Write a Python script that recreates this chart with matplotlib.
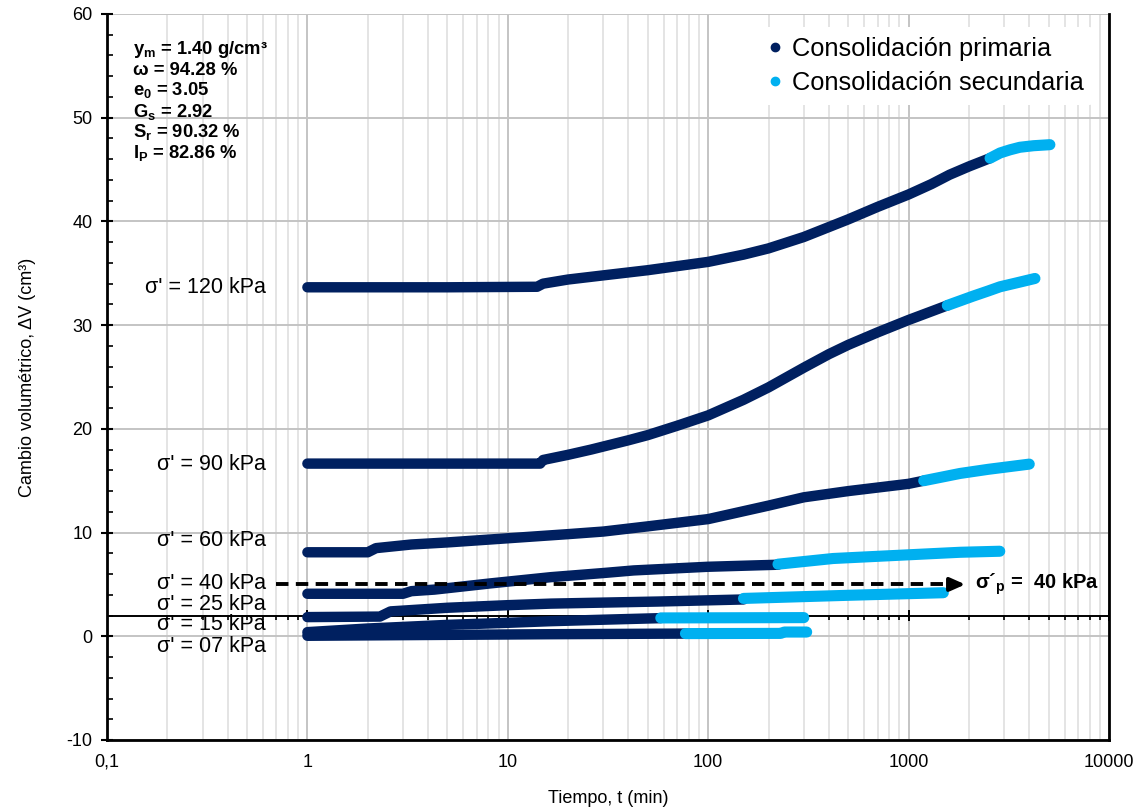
import matplotlib
matplotlib.use("Agg")
import matplotlib.pyplot as plt
from matplotlib.lines import Line2D
from matplotlib.ticker import FixedLocator, LogLocator, MultipleLocator, NullFormatter

plt.rcParams['font.family'] = ['Liberation Sans', 'DejaVu Sans']
plt.rcParams['mathtext.fontset'] = 'custom'
plt.rcParams['mathtext.rm'] = 'Liberation Sans'
plt.rcParams['mathtext.bf'] = 'Liberation Sans:bold'
plt.rcParams['mathtext.it'] = 'Liberation Sans:italic'
plt.rcParams['axes.unicode_minus'] = False

# ---- data: time (min) and volume change (cm3) per load step ----
t120_p = [1, 5, 14, 15, 20, 30, 50, 100, 150, 200, 300, 500, 700, 1000, 1300, 1600, 2000, 2550]
v120_p = [33.65, 33.65, 33.7, 34.0, 34.4, 34.8, 35.3, 36.1, 36.8, 37.4, 38.5, 40.2, 41.4, 42.6, 43.6, 44.5, 45.3, 46.1]
t120_s = [2550, 2860, 3200, 3590, 4200, 5070]
v120_s = [46.1, 46.6, 46.9, 47.15, 47.3, 47.4]

t90_p = [1, 14.5, 15, 20, 26, 40, 50, 70, 100, 150, 200, 300, 400, 500, 700, 1000, 1560]
v90_p = [16.65, 16.65, 17.0, 17.5, 18.0, 18.9, 19.4, 20.3, 21.3, 22.8, 24.0, 25.9, 27.2, 28.1, 29.3, 30.5, 31.9]
t90_s = [1560, 2100, 2500, 2860, 3500, 4270]
v90_s = [31.9, 32.8, 33.3, 33.7, 34.1, 34.5]

t60_p = [1, 2.0, 2.2, 3.3, 5, 10, 20, 30, 50, 100, 200, 300, 500, 1000, 1190]
v60_p = [8.1, 8.1, 8.5, 8.85, 9.05, 9.45, 9.85, 10.1, 10.6, 11.3, 12.6, 13.4, 14.0, 14.7, 15.0]
t60_s = [1190, 1806, 2500, 4000]
v60_s = [15.0, 15.7, 16.1, 16.6]

t40_p = [1, 3.0, 3.3, 4.3, 8.2, 16.4, 30, 42.5, 99, 223]
v40_p = [4.1, 4.1, 4.35, 4.5, 5.1, 5.7, 6.1, 6.35, 6.7, 6.9]
t40_s = [223, 420, 1806, 2850]
v40_s = [6.95, 7.5, 8.1, 8.2]

t25_p = [1, 2.3, 2.6, 5, 10, 16.4, 56, 150]
v25_p = [1.85, 1.9, 2.4, 2.75, 3.0, 3.15, 3.35, 3.55]
t25_s = [150, 495, 1490]
v25_s = [3.65, 3.95, 4.2]

t15_p = [1, 2, 5, 10, 16, 30, 58]
v15_p = [0.4, 0.75, 1.1, 1.3, 1.45, 1.6, 1.75]
t15_s = [58, 300]
v15_s = [1.77, 1.8]

t07_p = [1, 16, 77]
v07_p = [0.05, 0.2, 0.26]
t07_s = [77, 230, 240, 310]
v07_s = [0.26, 0.28, 0.41, 0.41]

primary = [(t120_p, v120_p), (t90_p, v90_p), (t60_p, v60_p), (t40_p, v40_p),
           (t25_p, v25_p), (t15_p, v15_p), (t07_p, v07_p)]
secondary = [(t120_s, v120_s), (t90_s, v90_s), (t60_s, v60_s), (t40_s, v40_s),
             (t25_s, v25_s), (t15_s, v15_s), (t07_s, v07_s)]

load_labels = ["σ' = 120 kPa", "σ' = 90 kPa", "σ' = 60 kPa", "σ' = 40 kPa",
               "σ' = 25 kPa", "σ' = 15 kPa", "σ' = 07 kPa"]
load_label_y = [33.65, 16.6, 9.2, 5.1, 3.1, 1.1, -1.0]

x_ticks = [0.1, 1, 10, 100, 1000, 10000]
x_ticklabels = ['0,1', '1', '10', '100', '1000', '10000']

soil_props = [r"$\mathbf{y_m}$ = 1.40 g/cm³",
              "ω = 94.28 %",
              r"$\mathbf{e_0}$ = 3.05",
              r"$\mathbf{G_s}$ = 2.92",
              r"$\mathbf{S_r}$ = 90.32 %",
              r"$\mathbf{I_P}$ = 82.86 %"]

sigma_p = 40
axis_cross = 2.0
NAVY = '#002060'
CYAN = '#00B0F0'

W, H = 1141, 809
fig = plt.figure(figsize=(W / 100, H / 100), dpi=100)
ax = fig.add_axes([107 / W, 1 - 740 / H, 1002 / W, 726 / H])
ax.set_xscale('log')
ax.set_xlim(0.1, 10000)
ax.set_ylim(-10, 60)

# grid
ax.xaxis.set_major_locator(FixedLocator(x_ticks))
ax.xaxis.set_minor_locator(LogLocator(base=10, subs=range(2, 10)))
ax.xaxis.set_minor_formatter(NullFormatter())
ax.set_xticklabels(x_ticklabels, fontsize=13)
ax.yaxis.set_major_locator(MultipleLocator(10))
ax.yaxis.set_minor_locator(MultipleLocator(2))
ax.grid(which='major', axis='x', color='#c4c4c4', lw=1.4)
ax.grid(which='minor', axis='x', color='#dddddd', lw=1.1)
ax.grid(which='major', axis='y', color='#c4c4c4', lw=1.4)
ax.set_axisbelow(True)

ax.tick_params(axis='x', which='both', length=0, pad=10)
ax.tick_params(axis='y', which='major', direction='inout', length=9, width=1.5, labelsize=13, pad=6)
ax.tick_params(axis='y', which='minor', direction='in', length=4, width=1.2)

for side in ['left', 'right', 'bottom']:
    ax.spines[side].set_linewidth(2)
    ax.spines[side].set_color('black')
ax.spines['top'].set_visible(False)

# horizontal axis line crossing at 2 cm3, with tick marks at the log positions
ax.axhline(axis_cross, color='black', lw=1.4, zorder=2)
decades = [0.1, 1, 10, 100, 1000]
minor_pos = [k * d for d in decades for k in range(2, 10)]
ax.vlines(minor_pos, axis_cross - 0.42, axis_cross, color='black', lw=1.2, zorder=2)
ax.vlines(x_ticks, axis_cross - 0.5, axis_cross + 0.5, color='black', lw=1.4, zorder=2)

# curves
for t, v in primary:
    ax.plot(t, v, color=NAVY, lw=7.5, solid_capstyle='round', solid_joinstyle='round', zorder=3)
for t, v in secondary:
    ax.plot(t, v, color=CYAN, lw=8, solid_capstyle='round', solid_joinstyle='round', zorder=4)

for lab, y in zip(load_labels, load_label_y):
    ax.text(0.62, y, lab, ha='right', va='center', fontsize=15.5, zorder=6)

# preconsolidation pressure marker
ax.plot([0.7, 1750], [5.0, 5.0], color='black', lw=2.8, ls=(0, (3.2, 1.9)), zorder=5)
ax.annotate('', xy=(1980, 5.0), xytext=(1600, 5.0),
            arrowprops=dict(arrowstyle='-|>,head_length=0.9,head_width=0.4', color='black', lw=2.8),
            zorder=5)
ax.text(2150, 5.0, r"σ´$_{\mathbf{p}}$ =  %d kPa" % sigma_p, ha='left', va='center',
        fontsize=14.5, fontweight='bold', zorder=6)

# soil properties
base_px = [53.5, 75, 95.5, 116.5, 137.5, 158]
for txt, py in zip(soil_props, base_px):
    fig.text(133 / W, 1 - py / H, txt, ha='left', va='baseline', fontsize=13.2, fontweight='bold')

# legend
handles = [Line2D([], [], ls='none', marker='o', ms=6, color=NAVY),
           Line2D([], [], ls='none', marker='o', ms=6, color=CYAN)]
leg = ax.legend(handles, ['Consolidación primaria', 'Consolidación secundaria'],
                loc='upper right', bbox_to_anchor=(0.985, 0.982), borderaxespad=0,
                fontsize=18.3, frameon=True, framealpha=1, edgecolor='none',
                handlelength=0.6, handletextpad=0.35, labelspacing=0.38)

ax.set_xlabel('Tiempo, t (min)', fontsize=13, labelpad=14)
ax.set_ylabel('Cambio volumétrico, ΔV (cm³)', fontsize=13, labelpad=22)

fig.savefig('out.png', dpi=100)
